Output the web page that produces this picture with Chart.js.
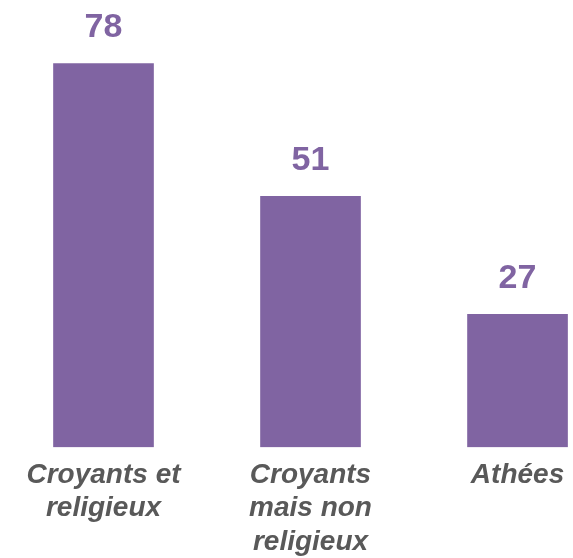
<!DOCTYPE html>
<html>
<head>
  <script src="https://cdn.jsdelivr.net/npm/chart.js"></script>
  <style>
    body { margin: 0; background: #fff; overflow: hidden; }
    #wrap { width: 573px; height: 558px; }
  </style>
</head>
<body>
  <div id="wrap"><canvas id="barChart"></canvas></div>
  <script>
    const categories = [['Croyants et', 'religieux'], ['Croyants', 'mais non', 'religieux'], ['Athées']];
    const values = [78, 51, 27];

    const purple = '#8064A2';
    const grey = '#595959';

    // value above each bar
    const valueLabels = {
      id: 'valueLabels',
      afterDatasetsDraw(chart) {
        const ctx = chart.ctx;
        const meta = chart.getDatasetMeta(0);
        ctx.save();
        ctx.fillStyle = purple;
        ctx.font = 'bold 34px "Liberation Sans", Arial, sans-serif';
        ctx.textAlign = 'center';
        ctx.textBaseline = 'middle';
        meta.data.forEach((bar, i) => {
          ctx.fillText(values[i], bar.x, bar.y - 36);
        });
        ctx.restore();
      }
    };

    new Chart(document.getElementById('barChart'), {
      type: 'bar',
      data: {
        datasets: [{
          data: values.map((v, i) => ({ x: i, y: v })),
          backgroundColor: purple,
          barThickness: 100
        }]
      },
      options: {
        responsive: true,
        maintainAspectRatio: false,
        animation: false,
        layout: { padding: { top: 2, left: 0, right: 0, bottom: -4 } },
        plugins: { legend: { display: false }, tooltip: { enabled: false } },
        scales: {
          x: {
            type: 'linear',
            offset: false,
            min: -0.5,
            max: 2.268,
            grid: { display: false, offset: false },
            border: { display: false },
            afterBuildTicks: axis => { axis.ticks = [0, 1, 2].map(v => ({ value: v })); },
            ticks: {
              autoSkip: false,
              maxRotation: 0,
              padding: 3,
              color: grey,
              font: { family: '"Liberation Sans", Arial, sans-serif', size: 28, style: 'italic', weight: 'bold', lineHeight: 1.2 },
              callback: v => categories[v]
            }
          },
          y: {
            display: false,
            min: 0,
            max: 90.5
          }
        }
      },
      plugins: [valueLabels]
    });
  </script>
</body>
</html>
